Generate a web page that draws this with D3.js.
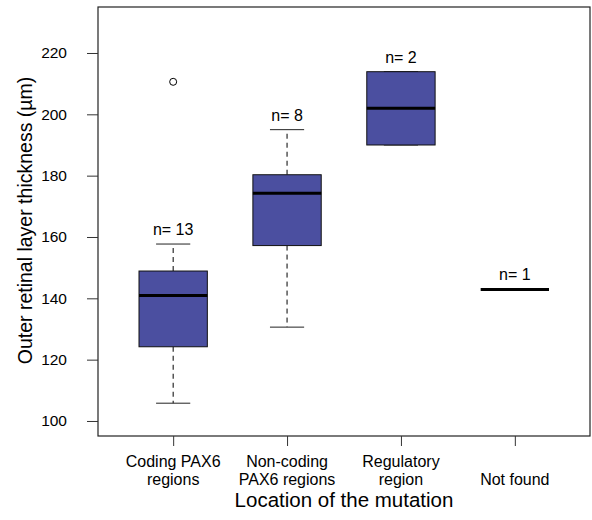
<!DOCTYPE html>
<html>
<head>
<meta charset="utf-8">
<script src="https://cdn.jsdelivr.net/npm/d3@7"></script>
<style>
  body { margin: 0; background: #fff; }
  svg { display: block; font-family: "Liberation Sans", Arial, sans-serif; }
</style>
</head>
<body>
<svg id="chart" width="592" height="520"></svg>
<script>
// categories and box summaries
const categories = [["Coding PAX6", "regions"], ["Non-coding", "PAX6 regions"], ["Regulatory", "region"], ["Not found"]];
const counts = [13, 8, 2, 1];
const lowerWhisker = [105.8, 130.6, 190, 142.9];
const q1 = [124.2, 157.2, 190, 142.9];
const medians = [140.9, 174.3, 202, 142.9];
const q3 = [148.9, 180.3, 213.9, 142.9];
const upperWhisker = [157.7, 195, 213.9, 142.9];
const outliers = [[1, 210.6]];
const yTicks = [100, 120, 140, 160, 180, 200, 220];

const svg = d3.select("#chart");
const plot = { left: 98, right: 590, top: 7, bottom: 436 };

const x = d3.scaleLinear().domain([0.34, 4.66]).range([plot.left, plot.right]);
const y = d3.scaleLinear().domain([95.1, 235]).range([plot.bottom, plot.top]);

const boxHalf = 0.3, capHalf = 0.15;
const fill = "#4b4fa0";

const boxes = categories.map((c, i) => ({
  pos: i + 1, n: counts[i], lo: lowerWhisker[i], q1: q1[i], med: medians[i], q3: q3[i], hi: upperWhisker[i]
}));

const g = svg.append("g");

boxes.forEach(b => {
  const flat = b.q1 === b.q3;
  if (!flat) {
    // whiskers
    g.append("line").attr("x1", x(b.pos)).attr("x2", x(b.pos))
      .attr("y1", y(b.q1)).attr("y2", y(b.lo))
      .attr("stroke", "#000").attr("stroke-dasharray", "5,4");
    g.append("line").attr("x1", x(b.pos)).attr("x2", x(b.pos))
      .attr("y1", y(b.q3)).attr("y2", y(b.hi))
      .attr("stroke", "#000").attr("stroke-dasharray", "5,4");
    [b.lo, b.hi].forEach(v => {
      g.append("line").attr("x1", x(b.pos - capHalf)).attr("x2", x(b.pos + capHalf))
        .attr("y1", y(v)).attr("y2", y(v)).attr("stroke", "#222").attr("stroke-width", 1);
    });
    g.append("rect")
      .attr("x", x(b.pos - boxHalf)).attr("width", x(b.pos + boxHalf) - x(b.pos - boxHalf))
      .attr("y", y(b.q3)).attr("height", y(b.q1) - y(b.q3))
      .attr("fill", fill).attr("stroke", "#111").attr("stroke-width", 1);
  }
  g.append("line").attr("x1", x(b.pos - boxHalf)).attr("x2", x(b.pos + boxHalf))
    .attr("y1", y(b.med)).attr("y2", y(b.med))
    .attr("stroke", "#000").attr("stroke-width", 3);
  g.append("text").attr("x", x(b.pos)).attr("y", y(b.hi) - 9)
    .attr("text-anchor", "middle").attr("font-size", 16).text("n= " + b.n);
});

outliers.forEach(([p, v]) => {
  g.append("circle").attr("cx", x(p)).attr("cy", y(v)).attr("r", 3.5)
    .attr("fill", "none").attr("stroke", "#000").attr("stroke-width", 1);
});

// frame
svg.append("rect").attr("x", plot.left).attr("y", plot.top)
  .attr("width", plot.right - plot.left).attr("height", plot.bottom - plot.top)
  .attr("fill", "none").attr("stroke", "#222").attr("stroke-width", 1.2);

// y axis
const yAxis = svg.append("g").attr("transform", `translate(${plot.left},0)`)
  .call(d3.axisLeft(y).tickValues(yTicks).tickSize(11).tickPadding(20));
yAxis.select(".domain").remove();
yAxis.selectAll("text").attr("font-size", 15.5).attr("fill", "#000").attr("font-family", null);
yAxis.selectAll("line").attr("stroke", "#333");

// x axis
const xAxis = svg.append("g").attr("transform", `translate(0,${plot.bottom})`)
  .call(d3.axisBottom(x).tickValues([1, 2, 3, 4]).tickSize(10).tickFormat(""));
xAxis.select(".domain").remove();
xAxis.selectAll("line").attr("stroke", "#333");

categories.forEach((lines, i) => {
  const t = svg.append("text").attr("text-anchor", "middle").attr("font-size", 16)
    .attr("x", x(i + 1)).attr("y", lines.length === 1 ? 485 : 467);
  lines.forEach((l, j) => t.append("tspan").attr("x", x(i + 1)).attr("dy", j === 0 ? 0 : 18).text(l));
});

svg.append("text").attr("x", (plot.left + plot.right) / 2).attr("y", 507)
  .attr("text-anchor", "middle").attr("font-size", 20.5).text("Location of the mutation");

svg.append("text").attr("transform", `translate(32,${(plot.top + plot.bottom) / 2 - 1}) rotate(-90)`)
  .attr("text-anchor", "middle").attr("font-size", 19.5).text("Outer retinal layer thickness (µm)");
</script>
</body>
</html>
